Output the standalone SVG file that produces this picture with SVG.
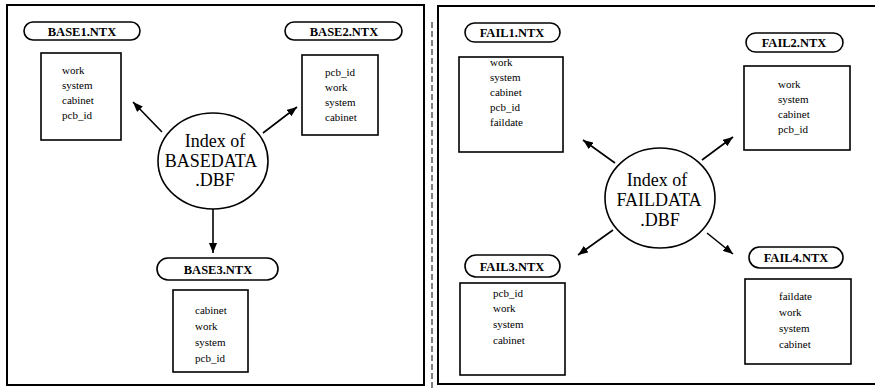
<svg xmlns="http://www.w3.org/2000/svg" width="875" height="392" viewBox="0 0 875 392">
<defs>
<marker id="ah" markerWidth="10" markerHeight="8" refX="10" refY="4" orient="auto" markerUnits="userSpaceOnUse">
<path d="M0,0 L10,4 L0,8 z" fill="#000"/>
</marker>
<style>
.panel{fill:none;stroke:#000;stroke-width:2}
.box{fill:#fff;stroke:#000;stroke-width:1.6}
.pill{fill:#fff;stroke:#000;stroke-width:1.6}
.hub{fill:#fff;stroke:#000;stroke-width:1.6}
.pt{font-family:"Liberation Serif",serif;font-size:12.5px;font-weight:bold;text-anchor:middle;fill:#000}
.ft{font-family:"Liberation Serif",serif;font-size:11px;fill:#000}
.ht{font-family:"Liberation Serif",serif;font-size:18px;text-anchor:middle;fill:#000}
.conn line{stroke:#000;stroke-width:1.6;marker-end:url(#ah)}
</style>
</defs>
<rect width="875" height="392" fill="#fff"/>
<g id="frames">
<rect class="panel" x="7" y="5" width="417" height="380"/>
<rect class="panel" x="438" y="6" width="440" height="378"/>
<line x1="432" y1="22" x2="432" y2="390" stroke="#000" stroke-width="1" stroke-dasharray="6,3"/>
</g>
<g class="conn" id="connectors">
<line x1="162" y1="132" x2="133" y2="102"/>
<line x1="263" y1="133" x2="297" y2="107"/>
<line x1="213" y1="208" x2="213" y2="253"/>
<line x1="615" y1="163" x2="583" y2="140"/>
<line x1="702" y1="160" x2="733" y2="137"/>
<line x1="613" y1="230" x2="578" y2="255"/>
<line x1="707" y1="233" x2="733" y2="254"/>
</g>
<g id="basedata">
<ellipse class="hub" cx="213" cy="161" rx="55" ry="48"/>
<text class="ht" x="215" y="147">Index of</text>
<text class="ht" x="211" y="167">BASEDATA</text>
<text class="ht" x="215" y="186">.DBF</text>
</g>
<g id="base1">
<rect class="pill" x="24" y="22" width="116" height="18" rx="9"/>
<text class="pt" x="82" y="36">BASE1.NTX</text>
<rect class="box" x="41" y="53" width="80" height="87"/>
<text class="ft" x="62" y="74">work</text>
<text class="ft" x="62" y="89">system</text>
<text class="ft" x="62" y="104">cabinet</text>
<text class="ft" x="62" y="119">pcb_id</text>
</g>
<g id="base2">
<rect class="pill" x="285" y="22" width="117" height="18" rx="9"/>
<text class="pt" x="344" y="36">BASE2.NTX</text>
<rect class="box" x="302" y="55" width="76" height="80"/>
<text class="ft" x="325" y="76">pcb_id</text>
<text class="ft" x="325" y="91">work</text>
<text class="ft" x="325" y="106">system</text>
<text class="ft" x="325" y="121">cabinet</text>
</g>
<g id="base3">
<rect class="pill" x="157" y="258" width="121" height="22" rx="11"/>
<text class="pt" x="218" y="274">BASE3.NTX</text>
<rect class="box" x="173" y="290" width="75" height="82"/>
<text class="ft" x="195" y="314">cabinet</text>
<text class="ft" x="195" y="330">work</text>
<text class="ft" x="195" y="346">system</text>
<text class="ft" x="195" y="362">pcb_id</text>
</g>
<g id="faildata">
<ellipse class="hub" cx="660" cy="198" rx="55" ry="50"/>
<text class="ht" x="657" y="186">Index of</text>
<text class="ht" x="659" y="206">FAILDATA</text>
<text class="ht" x="660" y="226">.DBF</text>
</g>
<g id="fail1">
<rect class="pill" x="465" y="23" width="95" height="19" rx="9.5"/>
<text class="pt" x="512" y="37">FAIL1.NTX</text>
<rect class="box" x="459" y="57" width="104" height="95"/>
<text class="ft" x="490" y="66">work</text>
<text class="ft" x="490" y="81">system</text>
<text class="ft" x="490" y="96">cabinet</text>
<text class="ft" x="490" y="111">pcb_id</text>
<text class="ft" x="490" y="126">faildate</text>
</g>
<g id="fail2">
<rect class="pill" x="746" y="33" width="97" height="19" rx="9.5"/>
<text class="pt" x="794" y="47">FAIL2.NTX</text>
<rect class="box" x="744" y="66" width="106" height="84"/>
<text class="ft" x="778" y="88">work</text>
<text class="ft" x="778" y="103">system</text>
<text class="ft" x="778" y="118">cabinet</text>
<text class="ft" x="778" y="133">pcb_id</text>
</g>
<g id="fail3">
<rect class="pill" x="465" y="255" width="95" height="22" rx="11"/>
<text class="pt" x="512" y="271">FAIL3.NTX</text>
<rect class="box" x="460" y="283" width="105" height="92"/>
<text class="ft" x="493" y="297">pcb_id</text>
<text class="ft" x="493" y="312">work</text>
<text class="ft" x="493" y="328">system</text>
<text class="ft" x="493" y="344">cabinet</text>
</g>
<g id="fail4">
<rect class="pill" x="749" y="247" width="94" height="21" rx="10.5"/>
<text class="pt" x="796" y="262">FAIL4.NTX</text>
<rect class="box" x="745" y="279" width="106" height="85"/>
<text class="ft" x="779" y="300">faildate</text>
<text class="ft" x="779" y="316">work</text>
<text class="ft" x="779" y="332">system</text>
<text class="ft" x="779" y="348">cabinet</text>
</g>
</svg>
